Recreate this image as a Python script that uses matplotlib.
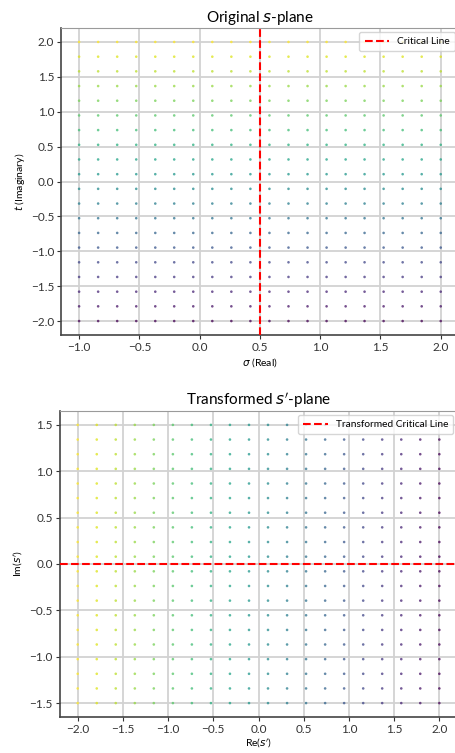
import numpy as np
import matplotlib
matplotlib.use('Agg')
import matplotlib.pyplot as plt

plt.rcParams['font.family'] = ['Lato', 'DejaVu Sans']
plt.rcParams['mathtext.fontset'] = 'dejavusans'

# sample points of the s-plane (sigma = real part, t = imaginary part)
sigma = [-1.0, -0.842, -0.684, -0.526, -0.368, -0.211, -0.053, 0.105, 0.263, 0.421,
         0.579, 0.737, 0.895, 1.053, 1.211, 1.368, 1.526, 1.684, 1.842, 2.0]
t_vals = [-2.0, -1.789, -1.579, -1.368, -1.158, -0.947, -0.737, -0.526, -0.316, -0.105,
          0.105, 0.316, 0.526, 0.737, 0.947, 1.158, 1.368, 1.579, 1.789, 2.0]
critical_sigma = 0.5

top_xticks = [-1.0, -0.5, 0.0, 0.5, 1.0, 1.5, 2.0]
top_yticks = [-2.0, -1.5, -1.0, -0.5, 0.0, 0.5, 1.0, 1.5, 2.0]
bot_xticks = [-2.0, -1.5, -1.0, -0.5, 0.0, 0.5, 1.0, 1.5, 2.0]
bot_yticks = [-1.5, -1.0, -0.5, 0.0, 0.5, 1.0, 1.5]

S, T = np.meshgrid(sigma, t_vals)
s = S + 1j * T
# s' = i (s - 1/2): critical line maps onto the real axis
s_prime = 1j * (s - critical_sigma)

fig = plt.figure(figsize=(4.56, 7.53), dpi=100)
ax1 = fig.add_axes([0.1338, 0.5551, 0.8724, 0.4077])
ax2 = fig.add_axes([0.1307, 0.0478, 0.8724, 0.4064])

grid_kw = dict(color='#d2d2d2', linewidth=1.3)
dot_kw = dict(cmap='viridis', s=3.5, alpha=0.75, linewidths=0, zorder=2)
legend_kw = dict(loc='upper right', fontsize=7.3, handlelength=2.4,
                 borderaxespad=0.4, borderpad=0.5)


def style(ax):
    ax.set_axisbelow(True)
    ax.grid(True, **grid_kw)
    for side in ['left', 'bottom']:
        ax.spines[side].set_color('#444444')
        ax.spines[side].set_linewidth(1.2)
    for side in ['top', 'right']:
        ax.spines[side].set_color('#9a9a9a')
    ax.tick_params(labelsize=8.5, colors='#333333', length=3, pad=2)


ax1.scatter(S.ravel(), T.ravel(), c=T.ravel(), **dot_kw)
ax1.axvline(critical_sigma, color='red', linestyle='--', linewidth=1.5,
            label='Critical Line', zorder=3)
ax1.set_xticks(top_xticks)
ax1.set_yticks(top_yticks)
ax1.set_xlim(-1.15, 2.15)
ax1.set_ylim(-2.2, 2.2)
ax1.set_title('Original $s$-plane', fontsize=11, pad=4)
ax1.set_xlabel(r'$\sigma$ (Real)', fontsize=7.5, labelpad=2)
ax1.set_ylabel('$t$ (Imaginary)', fontsize=7.5, labelpad=3)
ax1.legend(**legend_kw)
style(ax1)

ax2.scatter(s_prime.real.ravel(), s_prime.imag.ravel(), c=T.ravel(), **dot_kw)
ax2.axhline(0.0, color='red', linestyle='--', linewidth=1.5,
            label='Transformed Critical Line', zorder=3)
ax2.set_xticks(bot_xticks)
ax2.set_yticks(bot_yticks)
ax2.set_xlim(-2.2, 2.2)
ax2.set_ylim(-1.65, 1.65)
ax2.set_title("Transformed $s'$-plane", fontsize=11, pad=4)
ax2.set_xlabel("Re($s'$)", fontsize=7.5, labelpad=1)
ax2.set_ylabel("Im($s'$)", fontsize=7.5, labelpad=3)
ax2.legend(**legend_kw)
style(ax2)

fig.savefig('out.png', dpi=100)
